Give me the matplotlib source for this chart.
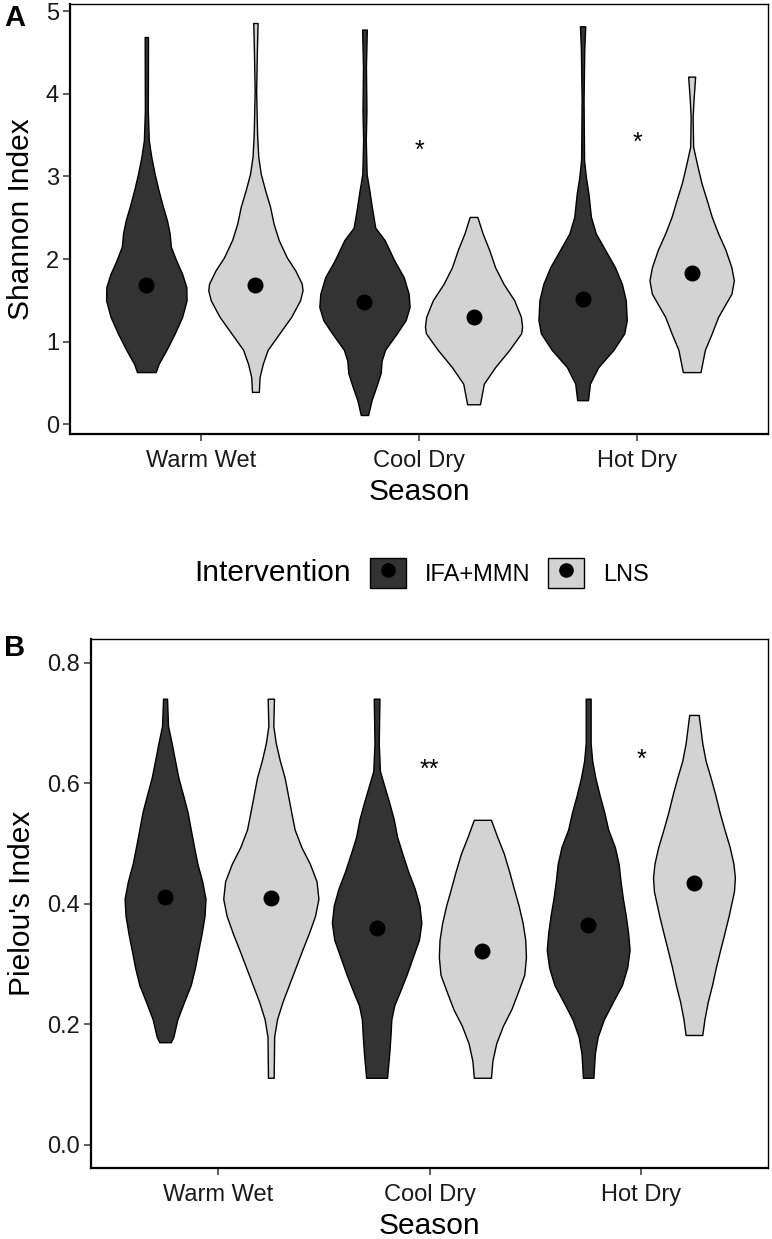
import matplotlib
matplotlib.use('Agg')
import matplotlib.pyplot as plt
from matplotlib.lines import Line2D
from matplotlib.patches import Patch
from matplotlib.legend_handler import HandlerTuple

plt.rcParams['font.family'] = ['Liberation Sans', 'DejaVu Sans']

seasons = ['Warm Wet', 'Cool Dry', 'Hot Dry']
groups = ['IFA+MMN', 'LNS']
group_colors = ['#333333', '#d3d3d3']

shannon_means = [[1.69, 1.69], [1.48, 1.30], [1.51, 1.83]]
pielou_means = [[0.411, 0.409], [0.360, 0.321], [0.365, 0.434]]

shannon_stars = ['', '*', '*']
shannon_star_y = [0, 3.40, 3.50]
pielou_stars = ['', '**', '*']
pielou_star_y = [0, 0.635, 0.651]

# violin outlines: (index value, density relative to the widest violin of the panel)
sh_ww_ifa = [(0.63, 0.19), (0.73, 0.25), (0.90, 0.41), (1.10, 0.58), (1.30, 0.73),
             (1.50, 0.82), (1.66, 0.815), (1.82, 0.73), (1.98, 0.61), (2.15, 0.50),
             (2.31, 0.475), (2.47, 0.42), (2.63, 0.34), (2.83, 0.25), (3.03, 0.17),
             (3.24, 0.10), (3.44, 0.05), (3.80, 0.03), (4.69, 0.034)]
sh_ww_lns = [(0.39, 0.07), (0.57, 0.085), (0.73, 0.15), (0.90, 0.25), (1.10, 0.49),
             (1.30, 0.73), (1.50, 0.91), (1.62, 0.96), (1.70, 0.945), (1.86, 0.815),
             (2.02, 0.64), (2.23, 0.475), (2.43, 0.37), (2.63, 0.30), (2.83, 0.20),
             (3.03, 0.11), (3.24, 0.058), (3.52, 0.034), (4.04, 0.015), (4.52, 0.03),
             (4.86, 0.044)]
sh_cd_ifa = [(0.11, 0.075), (0.29, 0.145), (0.46, 0.245), (0.62, 0.33), (0.77, 0.35),
             (0.90, 0.42), (1.10, 0.66), (1.26, 0.84), (1.42, 0.92), (1.58, 0.90),
             (1.78, 0.80), (1.98, 0.61), (2.23, 0.41), (2.38, 0.22), (2.63, 0.15),
             (2.83, 0.10), (3.03, 0.044), (3.44, 0.027), (3.80, 0.04), (4.33, 0.03),
             (4.78, 0.048)]
sh_cd_lns = [(0.24, 0.13), (0.49, 0.21), (0.69, 0.44), (0.90, 0.73), (1.10, 0.97),
             (1.18, 0.99), (1.30, 0.965), (1.50, 0.83), (1.70, 0.61), (1.90, 0.44),
             (2.11, 0.32), (2.31, 0.185), (2.51, 0.078)]
sh_hd_ifa = [(0.29, 0.11), (0.49, 0.15), (0.69, 0.32), (0.90, 0.63), (1.10, 0.85),
             (1.26, 0.90), (1.50, 0.88), (1.70, 0.80), (1.90, 0.66), (2.11, 0.46),
             (2.31, 0.27), (2.51, 0.17), (2.79, 0.12), (2.99, 0.068), (3.20, 0.03),
             (3.92, 0.02), (4.53, 0.034), (4.82, 0.054)]
sh_hd_lns = [(0.63, 0.18), (0.90, 0.27), (1.10, 0.41), (1.30, 0.54), (1.58, 0.81),
             (1.74, 0.86), (1.90, 0.81), (2.11, 0.69), (2.31, 0.54), (2.51, 0.41),
             (2.71, 0.31), (2.92, 0.20), (3.12, 0.12), (3.36, 0.03), (3.72, 0.02),
             (3.92, 0.037), (4.21, 0.071)]

pl_ww_ifa = [(0.170, 0.12), (0.179, 0.175), (0.208, 0.26), (0.237, 0.40), (0.265, 0.54),
             (0.294, 0.63), (0.323, 0.70), (0.351, 0.77), (0.380, 0.83), (0.408, 0.85),
             (0.437, 0.78), (0.466, 0.68), (0.494, 0.61), (0.523, 0.54), (0.551, 0.475),
             (0.580, 0.38), (0.609, 0.28), (0.637, 0.21), (0.666, 0.14), (0.6945, 0.063),
             (0.740, 0.042)]
pl_ww_lns = [(0.111, 0.06), (0.179, 0.07), (0.208, 0.13), (0.237, 0.245), (0.265, 0.38),
             (0.294, 0.52), (0.323, 0.66), (0.351, 0.80), (0.380, 0.93), (0.408, 1.0),
             (0.437, 0.96), (0.466, 0.82), (0.494, 0.64), (0.523, 0.50), (0.551, 0.43),
             (0.580, 0.36), (0.609, 0.29), (0.637, 0.19), (0.666, 0.105), (0.6945, 0.052),
             (0.740, 0.066)]
pl_cd_ifa = [(0.111, 0.22), (0.151, 0.265), (0.179, 0.29), (0.208, 0.31), (0.231, 0.37),
             (0.254, 0.49), (0.282, 0.63), (0.311, 0.76), (0.340, 0.89), (0.368, 0.94),
             (0.397, 0.90), (0.425, 0.80), (0.454, 0.66), (0.483, 0.54), (0.511, 0.43),
             (0.540, 0.36), (0.569, 0.26), (0.597, 0.155), (0.620, 0.07), (0.666, 0.045),
             (0.740, 0.06)]
pl_cd_lns = [(0.111, 0.18), (0.139, 0.21), (0.168, 0.29), (0.197, 0.43), (0.225, 0.61),
             (0.254, 0.75), (0.282, 0.88), (0.311, 0.915), (0.340, 0.90), (0.368, 0.845),
             (0.397, 0.76), (0.425, 0.66), (0.454, 0.56), (0.483, 0.45), (0.511, 0.31),
             (0.539, 0.18)]
pl_hd_ifa = [(0.111, 0.11), (0.151, 0.14), (0.179, 0.20), (0.208, 0.33), (0.237, 0.52),
             (0.265, 0.71), (0.294, 0.82), (0.323, 0.87), (0.351, 0.84), (0.380, 0.79),
             (0.408, 0.73), (0.437, 0.68), (0.466, 0.64), (0.494, 0.56), (0.523, 0.42),
             (0.551, 0.34), (0.580, 0.24), (0.609, 0.15), (0.637, 0.085), (0.666, 0.052),
             (0.740, 0.052)]
pl_hd_lns = [(0.182, 0.175), (0.208, 0.22), (0.237, 0.29), (0.265, 0.38), (0.294, 0.46),
             (0.323, 0.55), (0.351, 0.64), (0.380, 0.73), (0.420, 0.84), (0.443, 0.86),
             (0.466, 0.83), (0.494, 0.75), (0.523, 0.64), (0.551, 0.54), (0.580, 0.45),
             (0.609, 0.35), (0.637, 0.245), (0.666, 0.175), (0.713, 0.10)]

shannon_outlines = [[sh_ww_ifa, sh_ww_lns], [sh_cd_ifa, sh_cd_lns], [sh_hd_ifa, sh_hd_lns]]
pielou_outlines = [[pl_ww_ifa, pl_ww_lns], [pl_cd_ifa, pl_cd_lns], [pl_hd_ifa, pl_hd_lns]]

DODGE = 0.25
HALF_WIDTH = 0.225
TEXT_COLOR = '#1a1a1a'


def draw_violin(ax, x, outline, color):
    ys = [p[0] for p in outline]
    left = [x - p[1] * HALF_WIDTH for p in outline]
    right = [x + p[1] * HALF_WIDTH for p in outline]
    ax.fill_betweenx(ys, left, right, facecolor=color, edgecolor='black',
                     linewidth=1.0, zorder=2)


def draw_panel(ax, outlines, means, stars, star_y, ylabel, ylim, yticks, ytick_fmt):
    for i in range(len(seasons)):
        for j in range(len(groups)):
            x = (i + 1) + (j - 0.5) * 2 * DODGE
            draw_violin(ax, x, outlines[i][j], group_colors[j])
            ax.plot(x, means[i][j], 'o', color='black', markersize=10.5, zorder=3)
        if stars[i]:
            ax.annotate(stars[i], xy=(i + 1, star_y[i]), xytext=(0, -10.5),
                        textcoords='offset points', ha='center', va='baseline',
                        fontsize=18, color='black')
    ax.set_xlim(0.4, 3.6)
    ax.set_ylim(*ylim)
    ax.set_xticks([1, 2, 3])
    ax.set_xticklabels(seasons)
    ax.set_yticks(yticks)
    ax.set_yticklabels([ytick_fmt.format(t) for t in yticks])
    ax.tick_params(direction='out', length=5, width=1.1, color='#333333',
                   labelsize=17, labelcolor=TEXT_COLOR)
    ax.tick_params(axis='x', pad=6.5)
    ax.tick_params(axis='y', pad=3)
    for side in ['left', 'bottom']:
        ax.spines[side].set_linewidth(1.6)
    for side in ['top', 'right']:
        ax.spines[side].set_linewidth(1.0)
    ax.set_xlabel('Season', fontsize=21.5, color='black', labelpad=4)
    ax.set_ylabel(ylabel, fontsize=21.5, color='black', labelpad=8)


fig = plt.figure(figsize=(7.72, 12.39), dpi=100, facecolor='white')
W, H = 772.0, 1239.0

ax_a = fig.add_axes([70 / W, 1 - 434 / H, 698 / W, 430 / H])
draw_panel(ax_a, shannon_outlines, shannon_means, shannon_stars, shannon_star_y,
           'Shannon Index', (-0.12, 5.09), [0, 1, 2, 3, 4, 5], '{:d}')

ax_b = fig.add_axes([91 / W, 1 - 1168 / H, 677 / W, 529 / H])
draw_panel(ax_b, pielou_outlines, pielou_means, pielou_stars, pielou_star_y,
           "Pielou's Index", (-0.0387, 0.839), [0.0, 0.2, 0.4, 0.6, 0.8], '{:.1f}')

fig.text(4 / W, 1 - 4 / H, 'A', fontsize=21, fontweight='bold', ha='left', va='top')
fig.text(4 / W, 1 - 634 / H, 'B', fontsize=21, fontweight='bold', ha='left', va='top')

# legend
handles = [(Patch(facecolor=c, edgecolor='black', linewidth=1.0),
            Line2D([], [], marker='o', color='black', linestyle='none', markersize=9.5))
           for c in group_colors]
fig.text(194 / W, 1 - 573 / H, 'Intervention', fontsize=21.5, ha='left', va='center')
fig.legend(handles, groups, handler_map={tuple: HandlerTuple()},
           loc='center left', bbox_to_anchor=(370 / W, 1 - 573 / H),
           ncol=2, frameon=False, fontsize=17, handlelength=1.52, handleheight=1.52,
           handletextpad=0.8, columnspacing=0.75, borderpad=0, borderaxespad=0)

fig.savefig('out.png', dpi=100, facecolor='white')
